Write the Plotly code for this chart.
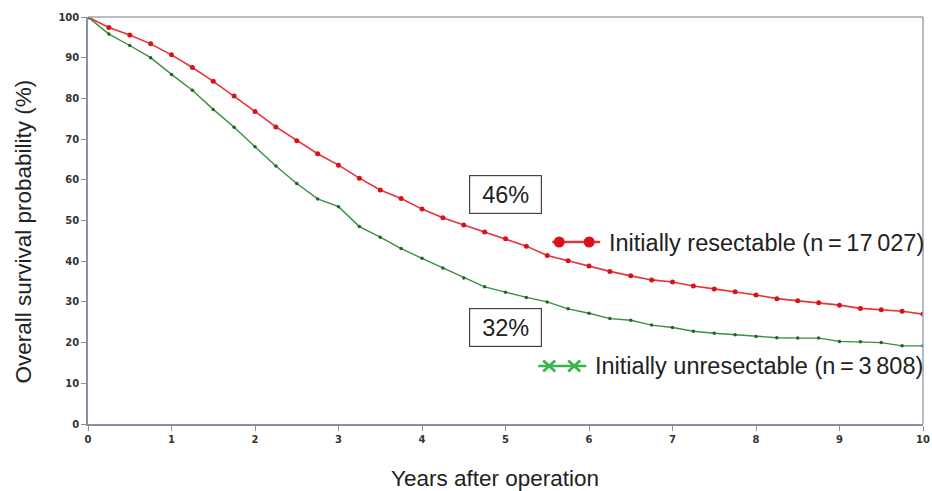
import plotly.graph_objects as go

# Follow-up time in years, sampled every quarter year
years = [i * 0.25 for i in range(41)]

# Overall survival (%) – initially resectable patients
resectable = [100, 97.4, 95.6, 93.4, 90.7, 87.6, 84.2, 80.6, 76.8, 73.0,
              69.6, 66.4, 63.6, 60.4, 57.5, 55.4, 52.8, 50.7, 48.9, 47.2,
              45.5, 43.7, 41.4, 40.1, 38.8, 37.5, 36.4, 35.4, 34.9, 33.9,
              33.2, 32.5, 31.7, 30.8, 30.3, 29.8, 29.2, 28.4, 28.1, 27.7,
              27.0]

# Overall survival (%) – initially unresectable patients
unresectable = [100, 95.8, 93.0, 90.0, 85.9, 82.0, 77.3, 72.9, 68.1, 63.4,
                59.1, 55.3, 53.4, 48.5, 45.9, 43.1, 40.7, 38.3, 35.9, 33.7,
                32.4, 31.1, 30.0, 28.3, 27.2, 25.9, 25.5, 24.3, 23.7, 22.8,
                22.3, 21.9, 21.5, 21.2, 21.1, 21.1, 20.3, 20.2, 20.0, 19.2,
                19.2]

x_ticks = list(range(0, 11))
y_ticks = list(range(0, 101, 10))

# 5-year survival call-outs
five_year_x = 5
five_year_labels = ["46%", "32%"]
five_year_label_y = [56.5, 23.8]

legend_names = ["Initially resectable (n\u202f=\u202f17\u202f027)",
                "Initially unresectable (n\u202f=\u202f3\u202f808)"]

RED_LINE = "#e8333a"
RED_MARK = "#d8121b"
GREEN_LINE = "#3a8f3f"
GREEN_MARK = "#24622a"
GREEN_KEY = "#3cb44a"
AXIS = "#8a8fa6"
TEXT = "#222222"
FONT = "Liberation Sans, Arial, sans-serif"

fig = go.Figure()

fig.add_trace(go.Scatter(
    x=years, y=resectable, mode="lines+markers", name=legend_names[0],
    line=dict(color=RED_LINE, width=1.6),
    marker=dict(color=RED_MARK, size=5, symbol="circle"),
    showlegend=False,
))
fig.add_trace(go.Scatter(
    x=years, y=unresectable, mode="lines+markers", name=legend_names[1],
    line=dict(color=GREEN_LINE, width=1.4),
    marker=dict(color=GREEN_MARK, size=3.5, symbol="circle"),
    showlegend=False,
))

axis_common = dict(
    showline=True, linecolor=AXIS, linewidth=1.5, mirror=False,
    ticks="outside", tickcolor=AXIS, ticklen=5, tickwidth=1,
    showgrid=False, zeroline=False, automargin=False,
    tickfont=dict(family="DejaVu Sans, sans-serif", size=10, color="#333333", weight="bold"),
)

fig.update_layout(
    width=932, height=491,
    margin=dict(l=87.5, r=9, t=17, b=67),
    paper_bgcolor="white", plot_bgcolor="white",
    font=dict(family=FONT, color=TEXT),
    xaxis=dict(range=[0, 10], tickvals=x_ticks, **axis_common),
    yaxis=dict(range=[0, 100], tickvals=y_ticks, **axis_common),
    showlegend=False,
)

# Plot frame: light top and right edges
fig.add_shape(type="line", xref="paper", yref="paper", x0=0, x1=1, y0=1, y1=1,
              line=dict(color="#a0a3b0", width=1.5))
fig.add_shape(type="line", xref="paper", yref="paper", x0=1, x1=1, y0=0, y1=1,
              line=dict(color="#a0a3b0", width=1.5))

# Boxed 5-year survival labels
for label, ly in zip(five_year_labels, five_year_label_y):
    fig.add_annotation(
        x=five_year_x, y=ly, xref="x", yref="y", text=label, showarrow=False,
        font=dict(family=FONT, size=23.5, color=TEXT),
        bgcolor="white", bordercolor="#444444", borderwidth=1.2,
        width=71, height=37, borderpad=0, align="center", valign="middle",
    )

# Legend keys drawn in paper space
PX0, PW = 87.5, 835.5
PY0, PH = 424.0, 407.0


def px(xp):
    return (xp - PX0) / PW


def py(yp):
    return (PY0 - yp) / PH


# resectable key: line with two round dots
fig.add_shape(type="line", xref="paper", yref="paper",
              x0=px(552), x1=px(600), y0=py(242), y1=py(242),
              line=dict(color=RED_LINE, width=2.5))
for cx in (559, 589):
    fig.add_shape(type="circle", xref="paper", yref="paper",
                  x0=px(cx - 5.5), x1=px(cx + 5.5), y0=py(242 + 5.5), y1=py(242 - 5.5),
                  fillcolor=RED_MARK, line=dict(color=RED_MARK, width=0))

# unresectable key: line with two crosses
fig.add_shape(type="line", xref="paper", yref="paper",
              x0=px(538), x1=px(586), y0=py(366), y1=py(366),
              line=dict(color=GREEN_KEY, width=2.5))
for cx in (549, 574):
    for dy in (-5.5, 5.5):
        fig.add_shape(type="line", xref="paper", yref="paper",
                      x0=px(cx - 6), x1=px(cx + 6), y0=py(366 + dy), y1=py(366 - dy),
                      line=dict(color=GREEN_KEY, width=2.8))

fig.add_annotation(x=px(607), y=py(243), xref="paper", yref="paper",
                   text=legend_names[0], showarrow=False, xanchor="left", yanchor="middle",
                   font=dict(family=FONT, size=23.5, color=TEXT))
fig.add_annotation(x=px(593), y=py(366), xref="paper", yref="paper",
                   text=legend_names[1], showarrow=False, xanchor="left", yanchor="middle",
                   font=dict(family=FONT, size=23.5, color=TEXT))

# Axis titles
fig.add_annotation(x=px(495), y=py(478), xref="paper", yref="paper",
                   text="Years after operation", showarrow=False,
                   xanchor="center", yanchor="middle",
                   font=dict(family=FONT, size=22.5, color=TEXT))
fig.add_annotation(x=px(22), y=py(232), xref="paper", yref="paper",
                   text="Overall survival probability (%)", showarrow=False, textangle=-90,
                   xanchor="center", yanchor="middle",
                   font=dict(family=FONT, size=22.5, color=TEXT))

fig.write_html("out.html")
